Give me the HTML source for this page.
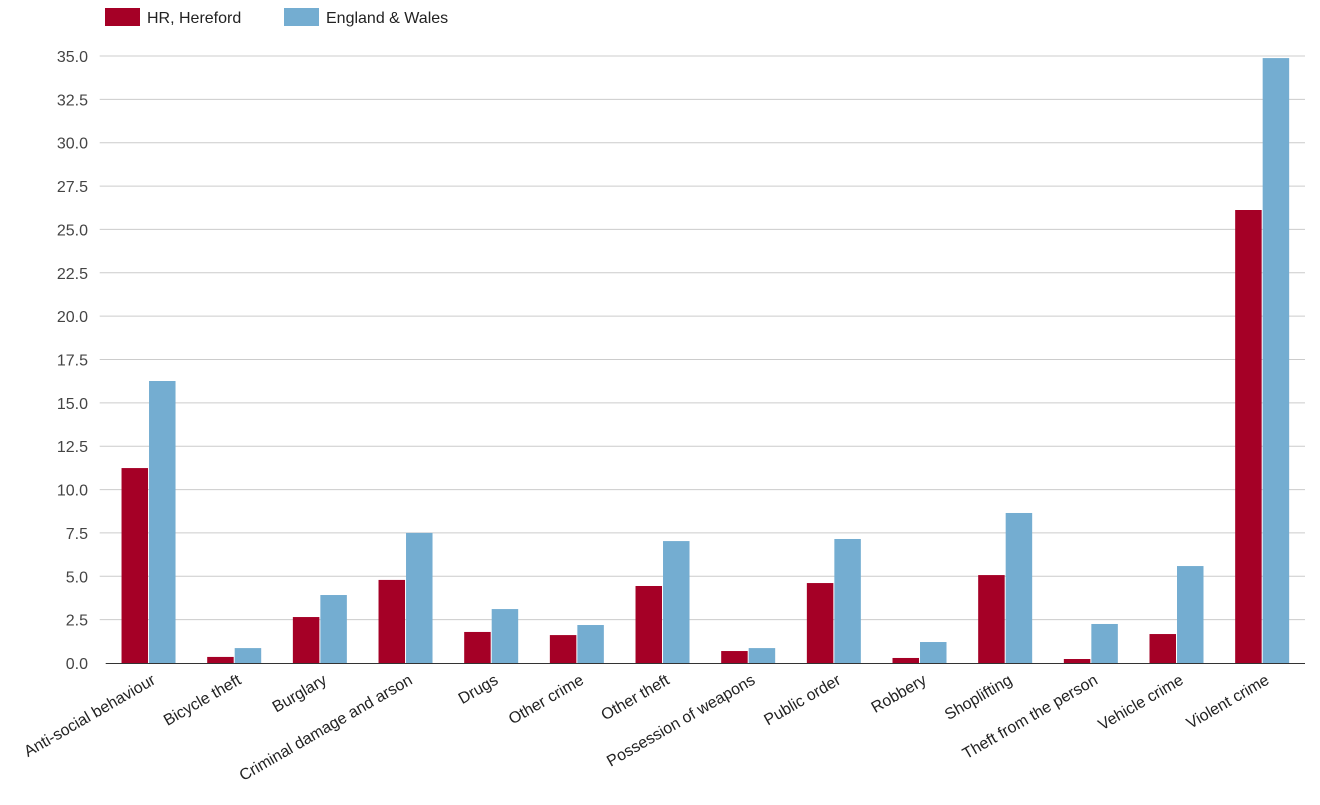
<!DOCTYPE html>
<html><head><meta charset="utf-8"><style>
body{margin:0;background:#fff;font-family:"Liberation Sans",Arial,sans-serif}
</style></head><body>
<svg id="c" width="1320" height="800" xmlns="http://www.w3.org/2000/svg"></svg>
<script>
const categories=["Anti-social behaviour","Bicycle theft","Burglary","Criminal damage and arson","Drugs","Other crime","Other theft","Possession of weapons","Public order","Robbery","Shoplifting","Theft from the person","Vehicle crime","Violent crime"];
const hereford=[11.24,0.35,2.65,4.79,1.79,1.61,4.44,0.69,4.61,0.29,5.07,0.23,1.67,26.12];
const englandWales=[16.26,0.86,3.92,7.5,3.11,2.19,7.03,0.86,7.15,1.21,8.65,2.25,5.59,34.88];
const yTicks=[0,2.5,5,7.5,10,12.5,15,17.5,20,22.5,25,27.5,30,32.5,35];
const seriesNames=["HR, Hereford","England & Wales"];
const colors=["#a50026","#74add1"];
const svg=document.getElementById('c');const NS="http://www.w3.org/2000/svg";
const X0=105.7,X1=1305,Y0=663,Y1=56,YMAX=35;
const band=(X1-X0)/categories.length;
const y=v=>Y0-(v/YMAX)*(Y0-Y1);
const xc=i=>X0+band*(i+0.5);
function mk(t,a,p){const e=document.createElementNS(NS,t);for(const k in a)e.setAttribute(k,a[k]);(p||svg).appendChild(e);return e;}
yTicks.forEach(t=>{
 if(t>0){const l=mk('line',{x1:X0-6,x2:X1,y1:y(t),y2:y(t),stroke:'#ccc','stroke-width':1});
 }
 const tx=mk('text',{x:88,y:y(t)+6,'text-anchor':'end','font-size':16,fill:'#444'});
 tx.textContent=t.toFixed(1);
 
});
[hereford,englandWales].forEach((s,si)=>{
 s.forEach((v,i)=>{
  const r=mk('rect',{x:si==0?xc(i)-27:xc(i)+0.5,y:y(v),width:26.5,height:Y0-y(v),fill:colors[si]});
  
  
 });
});
const ax=mk('line',{x1:X0,x2:X1,y1:Y0+0.5,y2:Y0+0.5,stroke:'#333','stroke-width':1});

categories.forEach((c,i)=>{
 const t=mk('text',{x:xc(i)+8,y:683,'text-anchor':'end','font-size':16,fill:'#222',transform:`rotate(-30 ${xc(i)+8} 683)`});
 t.textContent=c;
 
});
const lx=[105,284];
seriesNames.forEach((n,i)=>{
 const g=mk('g',{});
 
 mk('rect',{x:lx[i],y:8,width:35,height:18,fill:colors[i]},g);
 const t=mk('text',{x:lx[i]+42,y:23,'font-size':16,fill:'#222'},g);t.textContent=n;
});
</script>
</body></html>
